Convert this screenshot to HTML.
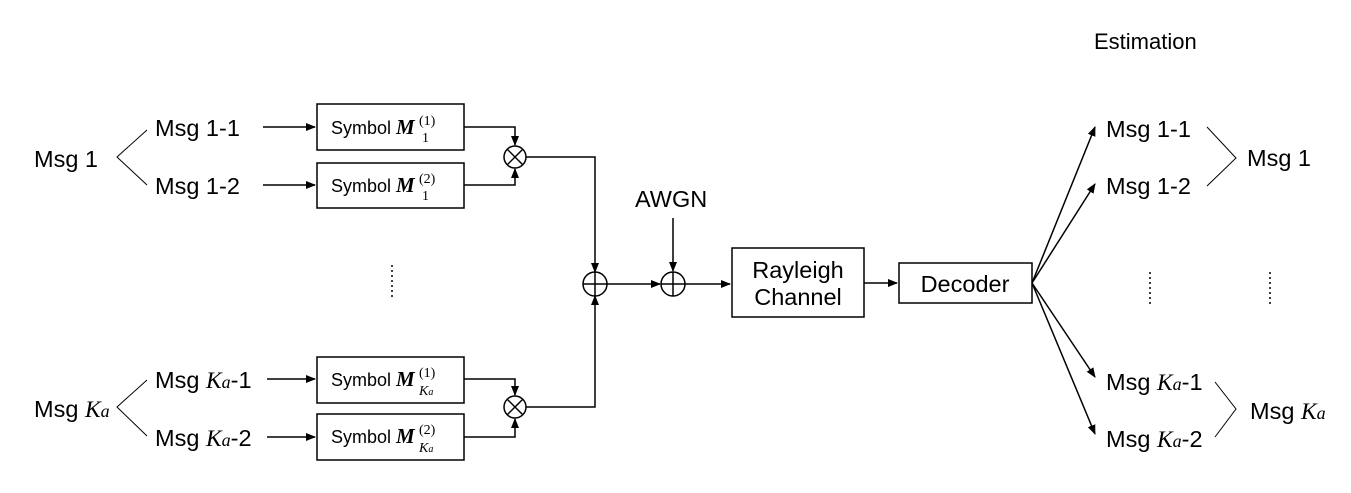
<!DOCTYPE html>
<html><head><meta charset="utf-8"><style>
body{margin:0;background:#fff}
svg{display:block}
text{font-family:"Liberation Sans",sans-serif;fill:#000}
.m{font-family:"Liberation Serif",serif;font-style:italic}
.r{font-family:"Liberation Serif",serif}
.b{font-family:"Liberation Serif",serif;font-style:italic;font-weight:bold}
</style></head><body>
<svg width="1351" height="493" viewBox="0 0 1351 493" xmlns="http://www.w3.org/2000/svg">
<defs><marker id="a" markerWidth="10" markerHeight="8" refX="9" refY="4" orient="auto" markerUnits="userSpaceOnUse"><path d="M0,0L10,4L0,8z" fill="#000"/></marker></defs>
<g stroke="#000" stroke-width="1.5" fill="none">
<polyline points="147,130 117,157 147,185" stroke-width="1"/>
<polyline points="147,380 117,407 147,436" stroke-width="1"/>
<line x1="263" y1="127" x2="315" y2="127" marker-end="url(#a)"/>
<line x1="263" y1="185" x2="315" y2="185" marker-end="url(#a)"/>
<line x1="267" y1="379" x2="315" y2="379" marker-end="url(#a)"/>
<line x1="267" y1="437" x2="315" y2="437" marker-end="url(#a)"/>
<rect x="317" y="104" width="147" height="46"/>
<rect x="317" y="163" width="147" height="45"/>
<rect x="317" y="357" width="147" height="46"/>
<rect x="317" y="414" width="147" height="46"/>
<polyline points="464,127 515,127 515,145" marker-end="url(#a)"/>
<polyline points="464,185 515,185 515,169" marker-end="url(#a)"/>
<polyline points="464,379 515,379 515,395" marker-end="url(#a)"/>
<polyline points="464,437 515,437 515,419" marker-end="url(#a)"/>
<circle cx="515" cy="157" r="11"/><line x1="507" y1="149" x2="523" y2="165"/><line x1="523" y1="149" x2="507" y2="165"/>
<circle cx="515" cy="407" r="11"/><line x1="507" y1="399" x2="523" y2="415"/><line x1="523" y1="399" x2="507" y2="415"/>
<polyline points="526,157 595,157 595,272" marker-end="url(#a)"/>
<polyline points="526,407 595,407 595,296" marker-end="url(#a)"/>
<circle cx="595" cy="284" r="12"/><line x1="583" y1="284" x2="607" y2="284"/><line x1="595" y1="272" x2="595" y2="296"/>
<line x1="607" y1="284" x2="660" y2="284" marker-end="url(#a)"/>
<circle cx="673" cy="284" r="12"/><line x1="661" y1="284" x2="685" y2="284"/><line x1="673" y1="272" x2="673" y2="296"/>
<line x1="673" y1="218" x2="673" y2="271" marker-end="url(#a)"/>
<line x1="685" y1="284" x2="730" y2="284" marker-end="url(#a)"/>
<rect x="732" y="248" width="132" height="69"/>
<line x1="864" y1="283" x2="897" y2="283" marker-end="url(#a)"/>
<rect x="899" y="263" width="133" height="40"/>
<line x1="1032" y1="283" x2="1095" y2="127" marker-end="url(#a)"/>
<line x1="1032" y1="283" x2="1095" y2="184" marker-end="url(#a)"/>
<line x1="1032" y1="283" x2="1095" y2="377" marker-end="url(#a)"/>
<line x1="1032" y1="283" x2="1095" y2="434" marker-end="url(#a)"/>
<polyline points="1207,127 1236,158 1207,186" stroke-width="1"/>
<polyline points="1215,382 1236,409 1215,437" stroke-width="1"/>
<line x1="392" y1="265" x2="392" y2="300" stroke-dasharray="2,3"/>
<line x1="1150" y1="272" x2="1150" y2="307" stroke-dasharray="2,3"/>
<line x1="1270" y1="272" x2="1270" y2="307" stroke-dasharray="2,3"/>
</g>
<g font-size="23.5">
<text x="34" y="167">Msg 1</text>
<text x="34" y="417">Msg <tspan class="m">K</tspan><tspan class="m" font-size="18">a</tspan></text>
<text x="155" y="136">Msg 1-1</text>
<text x="155" y="194">Msg 1-2</text>
<text x="155" y="388">Msg <tspan class="m">K</tspan><tspan class="m" font-size="18">a</tspan>-1</text>
<text x="155" y="446">Msg <tspan class="m">K</tspan><tspan class="m" font-size="18">a</tspan>-2</text>
<text x="635" y="207">AWGN</text>
<text x="798" y="278" text-anchor="middle">Rayleigh</text>
<text x="798" y="305" text-anchor="middle">Channel</text>
<text x="965" y="292" text-anchor="middle">Decoder</text>
<text x="1094" y="49" font-size="22">Estimation</text>
<text x="1106" y="137">Msg 1-1</text>
<text x="1106" y="194">Msg 1-2</text>
<text x="1247" y="166">Msg 1</text>
<text x="1106" y="390">Msg <tspan class="m">K</tspan><tspan class="m" font-size="18">a</tspan>-1</text>
<text x="1106" y="447">Msg <tspan class="m">K</tspan><tspan class="m" font-size="18">a</tspan>-2</text>
<text x="1250" y="419">Msg <tspan class="m">K</tspan><tspan class="m" font-size="18">a</tspan></text>
</g>
<g font-size="18">
<text x="331" y="134">Symbol <tspan class="b" font-size="21">M</tspan></text>
<text x="419" y="125" font-size="14" class="r">(1)</text><text x="422" y="142" font-size="14" class="r">1</text>
<text x="331" y="192">Symbol <tspan class="b" font-size="21">M</tspan></text>
<text x="419" y="183" font-size="14" class="r">(2)</text><text x="422" y="200" font-size="14" class="r">1</text>
<text x="331" y="386">Symbol <tspan class="b" font-size="21">M</tspan></text>
<text x="419" y="377" font-size="14" class="r">(1)</text><text x="419" y="395" font-size="14" class="m">K<tspan font-size="10">a</tspan></text>
<text x="331" y="443">Symbol <tspan class="b" font-size="21">M</tspan></text>
<text x="419" y="434" font-size="14" class="r">(2)</text><text x="419" y="452" font-size="14" class="m">K<tspan font-size="10">a</tspan></text>
</g>
</svg>
</body></html>
